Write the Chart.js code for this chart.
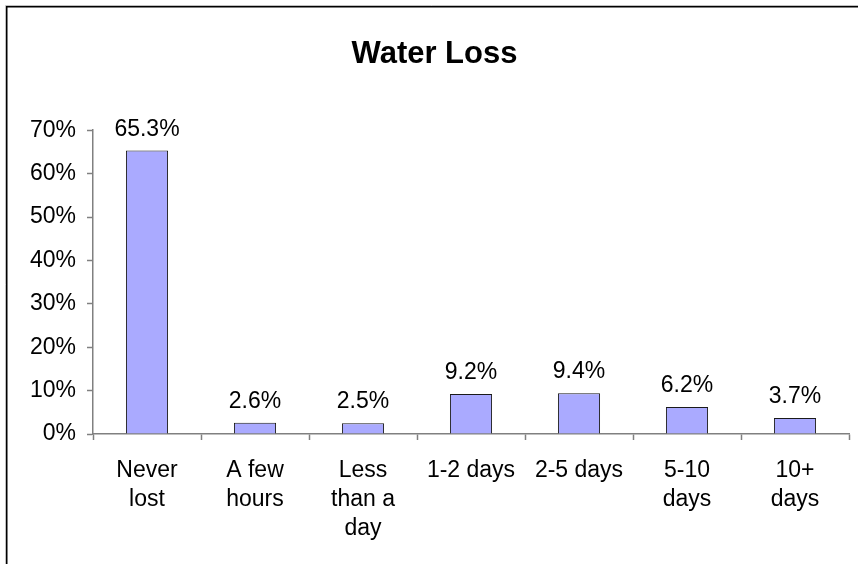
<!DOCTYPE html>
<html>
<head>
<meta charset="utf-8">
<script src="https://cdn.jsdelivr.net/npm/chart.js@4"></script>
<style>
  html, body { margin: 0; padding: 0; background: #fff; }
  #wrap { width: 858px; height: 564px; }
</style>
</head>
<body>
<div id="wrap"><canvas id="waterChart" width="858" height="564"></canvas></div>
<script>
// dados
const categories = [
  ['Never', 'lost'],
  ['A few', 'hours'],
  ['Less', 'than a', 'day'],
  '1-2 days',
  '2-5 days',
  ['5-10', 'days'],
  ['10+', 'days']
];
const lossValues = [65.3, 2.6, 2.5, 9.2, 9.4, 6.2, 3.7];
const yTicks = [0, 10, 20, 30, 40, 50, 60, 70];

const FONT = "'Liberation Sans', Arial, sans-serif";

// moldura preta e fundo branco
const framePlugin = {
  id: 'frame',
  beforeDraw(chart) {
    const c = chart.ctx;
    c.save();
    c.fillStyle = '#fff';
    c.fillRect(0, 0, chart.width, chart.height);
    c.strokeStyle = '#c0c0c0';
    c.lineWidth = 1;
    c.beginPath();
    c.moveTo(5.5, chart.height);
    c.lineTo(5.5, 5.5);
    c.lineTo(chart.width, 5.5);
    c.stroke();
    c.strokeStyle = '#000';
    c.lineWidth = 1.5;
    c.beginPath();
    c.moveTo(6.75, chart.height);
    c.lineTo(6.75, 6.75);
    c.lineTo(chart.width, 6.75);
    c.stroke();
    c.restore();
  }
};

// rótulos de valor acima das barras
const valueLabels = {
  id: 'valueLabels',
  afterDatasetsDraw(chart) {
    const c = chart.ctx;
    const meta = chart.getDatasetMeta(0);
    c.save();
    c.fillStyle = '#000';
    c.font = '23px ' + FONT;
    c.textAlign = 'center';
    c.textBaseline = 'alphabetic';
    meta.data.forEach((bar, i) => {
      c.fillText(lossValues[i].toFixed(1) + '%', bar.x, bar.y - 15);
    });
    c.restore();
  }
};

new Chart(document.getElementById('waterChart'), {
  type: 'bar',
  data: {
    labels: categories,
    datasets: [{
      data: lossValues,
      backgroundColor: '#aaaaff',
      borderColor: '#1a1a1a',
      borderWidth: 1,
      barPercentage: 0.39,
      categoryPercentage: 1
    }]
  },
  options: {
    responsive: false,
    animation: false,
    devicePixelRatio: 1,
    layout: { padding: { left: 20, right: 9, top: 0, bottom: 0 } },
    plugins: {
      legend: { display: false },
      tooltip: { enabled: false },
      title: {
        display: true,
        text: 'Water Loss',
        color: '#000',
        font: { family: FONT, size: 31, weight: 'bold', lineHeight: 1.2 },
        padding: { top: 36, bottom: 57 }
      }
    },
    scales: {
      x: {
        grid: {
          drawOnChartArea: false,
          color: '#808080',
          tickLength: 6,
          tickWidth: 1.5,
          offset: true
        },
        border: { color: '#808080', width: 1.5 },
        ticks: {
          color: '#000',
          padding: 16,
          maxRotation: 0,
          autoSkip: false,
          font: { family: FONT, size: 23, lineHeight: 1.27 }
        },
        afterFit(scale) { scale.height = 130; }
      },
      y: {
        min: 0,
        max: 70,
        grid: {
          drawOnChartArea: false,
          color: '#808080',
          tickLength: 6,
          tickWidth: 1.5
        },
        border: { color: '#808080', width: 1.5 },
        afterBuildTicks(scale) {
          scale.ticks = yTicks.map(v => ({ value: v }));
        },
        ticks: {
          color: '#000',
          padding: 11,
          font: { family: FONT, size: 23 },
          callback: v => v + '%'
        },
        afterFit(scale) { scale.width = 73; }
      }
    }
  },
  plugins: [framePlugin, valueLabels]
});
</script>
</body>
</html>
